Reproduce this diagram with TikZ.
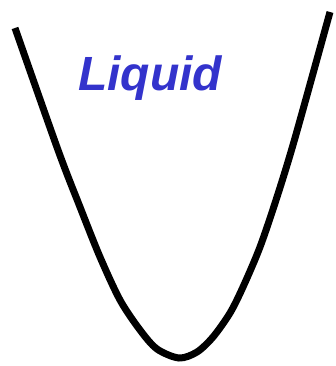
\documentclass[tikz,border=0pt]{standalone}
\usepackage{fontspec}
\newfontfamily\labelfont{Liberation Sans}
\usepackage{tikz}
\definecolor{liquidblue}{RGB}{51,51,204}
\tikzset{
  well/.style={line width=7pt, black},
  phase/.style={font=\labelfont\bfseries\itshape\fontsize{48}{52}\selectfont, text=liquidblue, inner sep=0pt}
}

\begin{document}
\begin{tikzpicture}[x=1pt, y=-1pt]
		\useasboundingbox (0,0) rectangle (336,366);
		% potential curve
		\draw[well] plot[smooth, tension=0.5] coordinates {(15,28) (58,150) (80,207) (100,257) (120,300) (140,330) (157,349) (179,358) (197,352) (213,337) (230,313) (243,287) (260,247) (277,197) (295,138) (330,12)};
		% label
		\node[phase, anchor=base] (liquid) at (150,91) {Liquid};
	\end{tikzpicture}
\end{document}
